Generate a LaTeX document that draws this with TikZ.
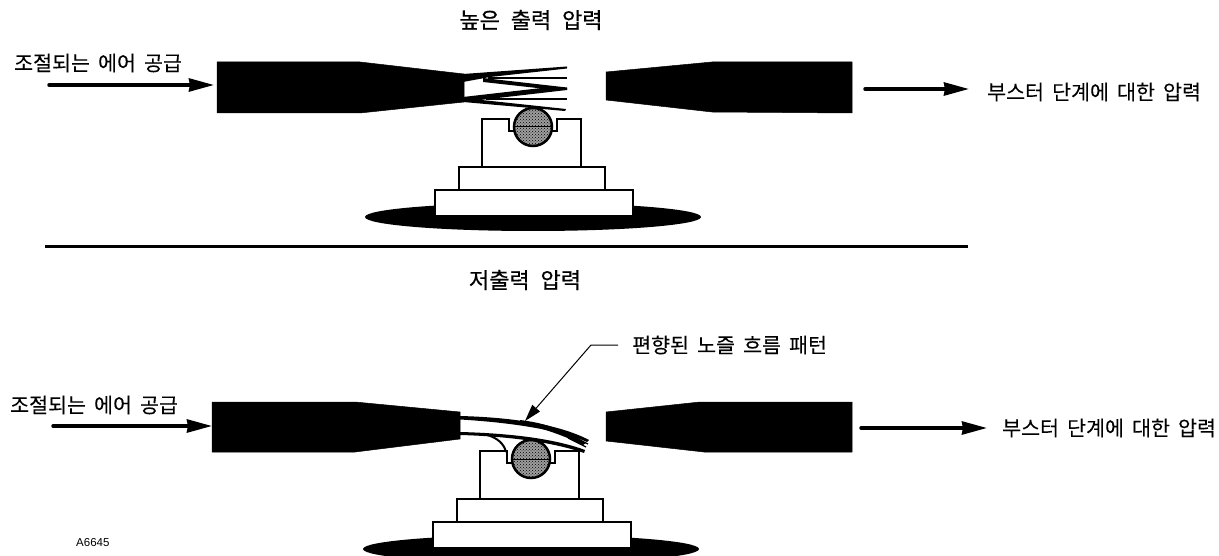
\documentclass[tikz,border=0pt]{standalone}
\usepackage{fontspec}
\usetikzlibrary{arrows.meta,patterns}
\setmainfont{Noto Sans CJK KR}
\newfontfamily\lblf[WordSpace=1.75,FakeBold=0.15]{Noto Sans CJK KR}
\newfontfamily\ttlf[WordSpace=2.2,FakeBold=0.6]{Noto Sans CJK KR}
\newfontfamily\latinf{Liberation Sans}
\tikzset{
  lbl/.style={font=\lblf\fontsize{20.6}{24}\selectfont, inner sep=0pt, text=black},
  ttl/.style={font=\ttlf\fontsize{22}{26}\selectfont, inner sep=0pt, text=black},
  blk/.style={fill=black, draw=black, line width=0.5pt, line join=round},
  box/.style={draw=black, line width=2.5pt, fill=white, line join=miter},
  flowarrow/.style={line width=3.5pt, line cap=round, -{Stealth[length=25pt,width=13pt,inset=1pt]}},
  strand/.style={fill=black},
}
\newcommand{\pedestal}[3]{%
  \begin{scope}[shift={(#1,#2)}]
    \fill[black] (533,#3) ellipse [x radius=168, y radius=14];
    \draw[box] (482,167) -- (482,119) -- (509,119) -- (509,131) -- (557,131) -- (557,119) -- (581,119) -- (581,167);
    \draw[box] (459,167) rectangle (605,190);
    \draw[box] (435,190) rectangle (633,216);
    \fill[black!38] (533,127) circle [radius=19];
    \fill[pattern=crosshatch dots, pattern color=black] (533,127) circle [radius=19];
    \draw[black, line width=2.5pt] (533,127) circle [radius=19];
    \draw[black, line width=1pt] (514,127) -- (552,127);
  \end{scope}}
\begin{document}
\begin{tikzpicture}[x=1pt,y=-1pt]
\useasboundingbox (0,0) rectangle (1219,556);
\clip (0,0) rectangle (1219,556);
% titles
\node[ttl] (t1) at (531,20) {높은 출력 압력};
\node[ttl] (t2) at (525,280) {저출력 압력};
\node[lbl, anchor=west] (a1) at (14,63) {조절되는 에어 공급};
\node[lbl, anchor=west] (b1) at (987,92) {부스터 단계에 대한 압력};
\node[lbl, anchor=west] (a2) at (10,405) {조절되는 에어 공급};
\node[lbl, anchor=west] (b2) at (1002,428) {부스터 단계에 대한 압력};
\node[lbl, anchor=west] (lead) at (632,345) {편향된 노즐 흐름 패턴};
\node[anchor=west, inner sep=0pt, font=\latinf\fontsize{11.5}{13}\selectfont] (code) at (76,543) {A6645};
% divider
\coordinate (d1) at (45,247);
\coordinate (d2) at (968,247);
\draw[line width=3pt] (d1) -- (d2);
% top
\pedestal{0}{0}{217}
\path[blk] (217,62) -- (360,62) -- (464,74) -- (464,102) -- (360,113) -- (217,113) -- cycle;
\fill[strand] (463,74) -- (567,66.5) -- (567,68.5) -- (490,77) -- (463,82) -- cycle;
\fill[strand] (488,77) -- (567,77) -- (567,79.5) -- (488,79.5) -- cycle;
\fill[strand] (483,78) -- (567,87.5) -- (567,90) -- (546,89) -- (483,82) -- cycle;
\fill[strand] (463,97) -- (546,87.5) -- (567,88) -- (567,90) -- (463,102) -- cycle;
\fill[strand] (486,98) -- (567,98) -- (567,100.5) -- (486,100.5) -- cycle;
\fill[strand] (463,98) -- (566,109) -- (565,111) -- (463,102) -- cycle;
\path[blk] (606,72) -- (712,62) -- (852,62) -- (852,113) -- (712,112) -- (606,100) -- cycle;
% bottom
\pedestal{-2}{332}{217}
\path[blk] (212,402) -- (355,402) -- (460,412) -- (460,439) -- (355,452) -- (212,452) -- cycle;
\path[blk] (606,412) -- (700,402) -- (852,402) -- (852,452) -- (704,452) -- (606,441) -- cycle;
% deflected flow
\fill[black] (460,416) .. controls (500,417) and (555,422) .. (589,440) -- (587,442) .. controls (565,432) and (520,423) .. (460,419.5) -- cycle;
\fill[black] (520,420) .. controls (545,423) and (565,430) .. (586,443) -- (583,445) .. controls (565,436) and (545,429) .. (520,423) -- cycle;
\fill[black] (460,432) .. controls (500,433) and (550,437) .. (585,450) -- (584,453) .. controls (550,441) and (500,436) .. (460,435) -- cycle;
\draw[line width=2pt] (486,434.5) .. controls (498,438) and (504,444) .. (506,452);
\draw[line width=1.2pt] (572,436) -- (588,444) (568,438) -- (586,447);
% leader
\coordinate (lk) at (591,345);
\coordinate (le) at (618,345);
\coordinate (lt) at (525,421);
\draw[line width=1pt, -{Stealth[length=17pt,width=10pt,inset=0pt]}] (le) -- (lk) -- (lt);
% arrows
\coordinate (s1) at (49,85);
\coordinate (e1) at (214,85);
\coordinate (s2) at (53,426);
\coordinate (e2) at (212,426);
\coordinate (s3) at (865,89);
\coordinate (e3) at (969,89);
\coordinate (s4) at (861,428);
\coordinate (e4) at (987,428);
\draw[flowarrow] (s1) -- (e1);
\draw[flowarrow] (s2) -- (e2);
\draw[flowarrow] (s3) -- (e3);
\draw[flowarrow] (s4) -- (e4);
\end{tikzpicture}
\end{document}
